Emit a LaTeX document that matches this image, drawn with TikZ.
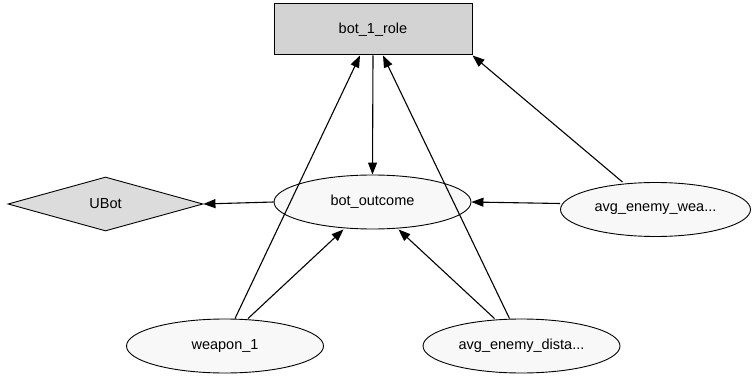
\documentclass[tikz,border=0pt]{standalone}
\usepackage{fontspec}
\setmainfont{Liberation Sans}
\usetikzlibrary{shapes.geometric,arrows.meta}
\definecolor{rolefill}{HTML}{D3D3D3}
\definecolor{ubotfill}{HTML}{DCDCDC}
\definecolor{ellfill}{HTML}{F8F8F8}
\tikzset{
  every node/.style={font=\fontsize{14.5}{16}\selectfont, inner sep=0pt},
  box/.style={draw, line width=1pt, rectangle, fill=rolefill, minimum width=198pt, minimum height=51pt},
  oval/.style={draw, line width=0.9pt, ellipse, fill=ellfill, minimum width=197pt, minimum height=54pt},
  dia/.style={draw, line width=0.9pt, diamond, fill=ubotfill, minimum width=195pt, minimum height=54pt},
  edge/.style={line width=1.1pt, -{Triangle[length=12pt,width=9pt]}},
}
\begin{document}
\begin{tikzpicture}[x=1pt,y=-1pt]
\useasboundingbox (0,0) rectangle (752,377);
\node[box] (r) at (373,29.5) {bot\_1\_role};
\node[oval] (bo) at (372.5,202) {bot\_outcome};
\node[dia] (u) at (105.5,204) {UBot};
\node[oval, minimum width=190pt] (a) at (655.5,209.5) {avg\_enemy\_wea...};
\node[oval] (w) at (225,346) {weapon\_1};
\node[oval] (d) at (521.5,346) {avg\_enemy\_dista...};

\draw[edge] (r.south) -- (bo.north);
\draw[edge] (bo.west) -- (u.east);
\draw[edge] ([yshift=6]a.west) -- (bo.east);
\draw[edge] ([xshift=-33]a.north) -- (r.south east);
\draw[edge] ([xshift=10]w.north) -- ([xshift=-13]r.south);
\draw[edge] ([xshift=23]w.north) -- ([xshift=-29]bo.south);
\draw[edge] ([xshift=-27]d.north) -- ([xshift=26]bo.south);
\draw[edge] ([xshift=-12]d.north) -- ([xshift=10]r.south);
\end{tikzpicture}
\end{document}
